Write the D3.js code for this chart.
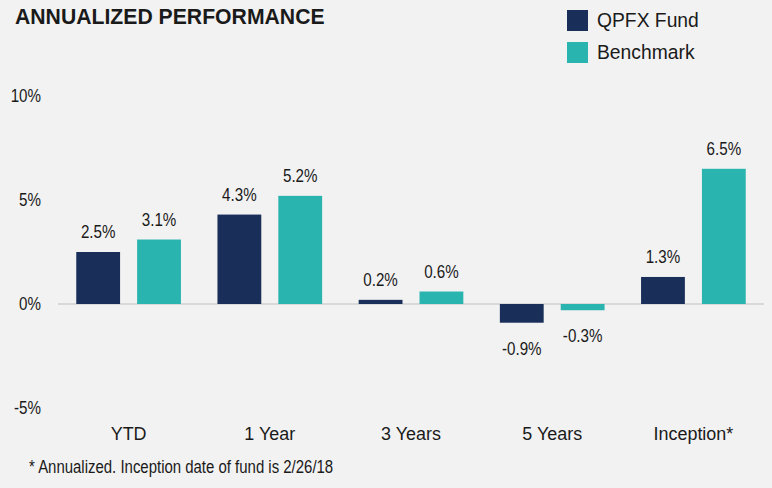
<!DOCTYPE html>
<html>
<head>
<meta charset="utf-8">
<script src="https://cdn.jsdelivr.net/npm/d3@7"></script>
<style>
  body { margin: 0; background: #f2f2f2; }
  svg { display: block; }
</style>
</head>
<body>
<div id="chart"></div>
<script>
// chart data
var categories = ["YTD", "1 Year", "3 Years", "5 Years", "Inception*"];
var seriesNames = ["QPFX Fund", "Benchmark"];
var fundValues = [2.5, 4.3, 0.2, -0.9, 1.3];
var benchValues = [3.1, 5.2, 0.6, -0.3, 6.5];
var yTicks = [-5, 0, 5, 10];
var colors = ["#192f5a", "#2ab4af"];

var width = 772, height = 488;
var font = "'Liberation Sans', Arial, sans-serif";
var squeeze = 0.82; // fake the narrow face of the original

var svg = d3.select("#chart")
    .append("svg")
    .attr("width", width)
    .attr("height", height);

svg.append("rect")
    .attr("width", width)
    .attr("height", height)
    .attr("fill", "#f2f2f2");

// put a condensed text at x,y
function narrowText(parent, x, y, size, anchor, sx) {
    return parent.append("text")
        .attr("transform", "translate(" + x + "," + y + ") scale(" + (sx || squeeze) + ",1)")
        .attr("text-anchor", anchor || "middle")
        .attr("font-family", font)
        .attr("font-size", size)
        .attr("fill", "#1a1a1a");
}

// title
svg.append("text")
    .attr("x", 15)
    .attr("y", 24)
    .attr("font-family", font)
    .attr("font-weight", "bold")
    .attr("font-size", 21.2)
    .attr("fill", "#1a1a1a")
    .text("ANNUALIZED PERFORMANCE");

// scales
var x0 = d3.scaleBand()
    .domain(categories)
    .range([58, 764])
    .padding(0);

var x1 = d3.scaleBand()
    .domain(seriesNames)
    .range([0, x0.bandwidth()])
    .paddingInner(0.28)
    .paddingOuter(0.3);

var y = d3.scaleLinear()
    .domain([-5, 10])
    .range([408, 96]);

var color = d3.scaleOrdinal().domain(seriesNames).range(colors);

// y axis labels (no line)
var yAxis = svg.append("g")
    .attr("transform", "translate(41,0)")
    .call(d3.axisLeft(y).tickValues(yTicks).tickSize(0).tickPadding(0)
        .tickFormat(function(d) { return d + "%"; }));
yAxis.select(".domain").remove();
yAxis.selectAll("text")
    .attr("transform", "scale(" + squeeze + ",1)")
    .attr("font-family", font)
    .attr("font-size", 18.5)
    .attr("fill", "#1a1a1a");

// zero line
svg.append("line")
    .attr("x1", 58)
    .attr("x2", 764)
    .attr("y1", y(0))
    .attr("y2", y(0))
    .attr("stroke", "#d9d9d9")
    .attr("stroke-width", 2);

// build grouped data
var rows = categories.map(function(c, i) {
    return { cat: c, values: [
        { name: seriesNames[0], value: fundValues[i] },
        { name: seriesNames[1], value: benchValues[i] }
    ]};
});

var groups = svg.selectAll(".group")
    .data(rows)
    .join("g")
    .attr("class", "group")
    .attr("transform", function(d) { return "translate(" + x0(d.cat) + ",0)"; });

groups.selectAll("rect")
    .data(function(d) { return d.values; })
    .join("rect")
    .attr("x", function(d) { return x1(d.name); })
    .attr("width", x1.bandwidth())
    .attr("y", function(d) { return d.value >= 0 ? y(d.value) : y(0); })
    .attr("height", function(d) { return Math.abs(y(d.value) - y(0)); })
    .attr("fill", function(d) { return color(d.name); });

// value labels
groups.each(function(row) {
    var g = d3.select(this);
    row.values.forEach(function(d) {
        var lx = x1(d.name) + x1.bandwidth() / 2;
        var ly = d.value >= 0 ? y(d.value) - 14 : y(d.value) + 32;
        narrowText(g, lx, ly, 18.5).text(d.value.toFixed(1) + "%");
    });
});

// category labels
categories.forEach(function(c) {
    narrowText(svg, x0(c) + x0.bandwidth() / 2, 440, 18.5, "middle", 0.97).text(c);
});

// legend
var legend = svg.append("g")
    .selectAll("g")
    .data(seriesNames)
    .join("g")
    .attr("transform", function(d, i) { return "translate(567," + (10 + i * 32) + ")"; });

legend.append("rect")
    .attr("width", 21)
    .attr("height", 21)
    .attr("fill", function(d) { return color(d); });

legend.append("text")
    .attr("x", 30)
    .attr("y", 17)
    .attr("font-family", font)
    .attr("font-size", 19.3)
    .attr("fill", "#1a1a1a")
    .text(function(d) { return d; });

// footnote
narrowText(svg, 29, 473, 17.5, "start", 0.855)
    .text("* Annualized. Inception date of fund is 2/26/18");
</script>
</body>
</html>
